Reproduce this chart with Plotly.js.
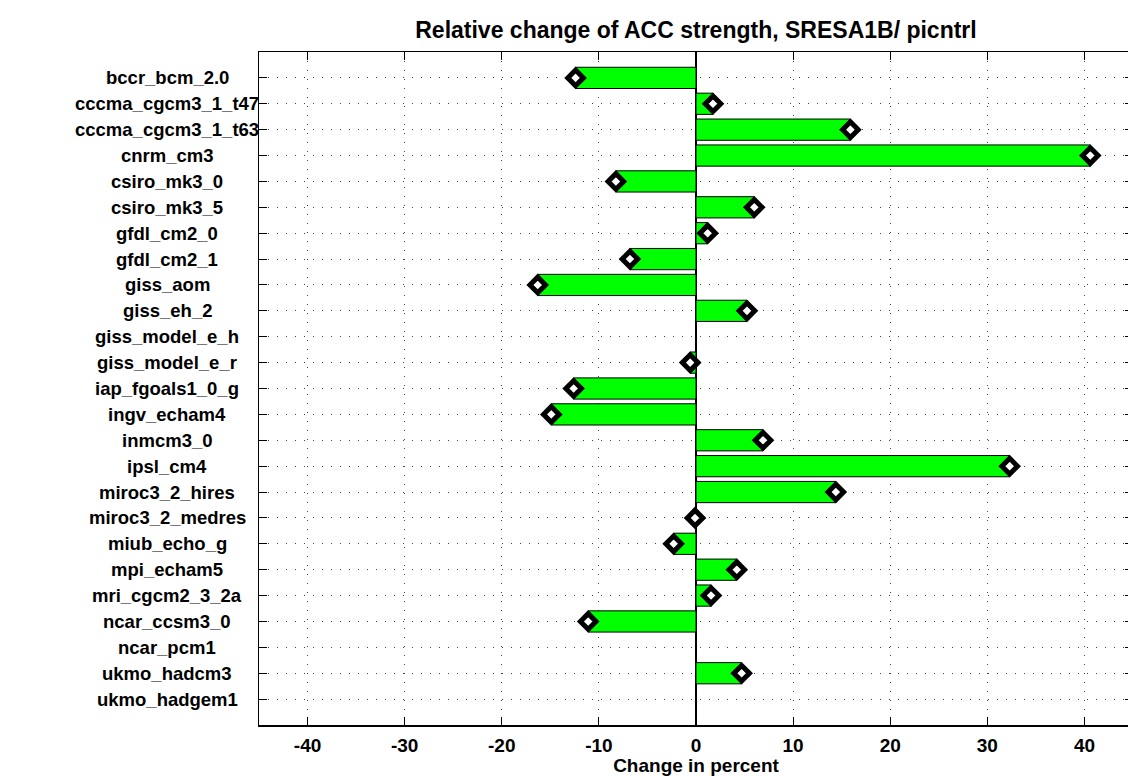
<!DOCTYPE html>
<html><head><meta charset="utf-8">
<script src="https://cdn.plot.ly/plotly-3.0.1.min.js"></script>
<style>html,body{margin:0;padding:0;overflow:hidden;background:#fff;}#chart{width:1140px;height:776px;}</style>
</head><body><div id="chart"></div>
<script>
const models = ["bccr_bcm_2.0","cccma_cgcm3_1_t47","cccma_cgcm3_1_t63","cnrm_cm3","csiro_mk3_0","csiro_mk3_5","gfdl_cm2_0","gfdl_cm2_1","giss_aom","giss_eh_2","giss_model_e_h","giss_model_e_r","iap_fgoals1_0_g","ingv_echam4","inmcm3_0","ipsl_cm4","miroc3_2_hires","miroc3_2_medres","miub_echo_g","mpi_echam5","mri_cgcm2_3_2a","ncar_ccsm3_0","ncar_pcm1","ukmo_hadcm3","ukmo_hadgem1"];
const change = [-12.4,1.75,15.9,40.6,-8.25,6.0,1.2,-6.8,-16.3,5.25,0,-0.6,-12.6,-14.9,6.9,32.3,14.4,-0.1,-2.3,4.2,1.55,-11.1,0,4.7,0];
const hasMarker = [1,1,1,1,1,1,1,1,1,1,0,1,1,1,1,1,1,1,1,1,1,1,0,1,0];
const xTicks = [-40,-30,-20,-10,0,10,20,30,40];

const pos = models.map((m,i)=>i+1);
const mx = change.map((v,i)=>hasMarker[i]?v:null);

const font = {family:"Liberation Sans, Arial, sans-serif", color:"#000"};
const data = [
 {type:"bar", orientation:"h", x:change, y:pos, width:0.82,
  marker:{color:"#00ff00", line:{color:"#000", width:1}}, hoverinfo:"x+y"},
 {type:"scatter", mode:"markers", x:mx, y:pos,
  marker:{symbol:"diamond", size:12, color:"#ffffff", line:{color:"#000", width:5}}}
];
const labelAnn = models.map((m,i)=>({
  xref:"paper", yref:"y", x:-0.105, y:pos[i], xanchor:"center", yanchor:"middle",
  text:"<b>"+m+"</b>", showarrow:false, font:Object.assign({size:18.5},font)
}));
const layout = {
 width:1140, height:776, showlegend:false,
 margin:{l:259, r:7, t:52, b:51},
 paper_bgcolor:"#fff", plot_bgcolor:"#fff",
 title:{text:"<b>Relative change of ACC strength, SRESA1B/ picntrl</b>", font:Object.assign({size:23},font), x:0.6105, xanchor:"center", y:0.961, yanchor:"middle"},
 xaxis:{range:[-45,45], tickvals:xTicks, ticktext:xTicks.map(String), ticks:"inside", ticklen:8, tickcolor:"#000",
   showline:true, linecolor:"#000", linewidth:1.5, mirror:"ticks",
   showgrid:true, gridcolor:"#444", griddash:"1px,8px", gridwidth:1,
   zeroline:true, zerolinecolor:"#000", zerolinewidth:1.5,
   tickfont:Object.assign({size:19, weight:"bold"},font), ticklabelstandoff:3,
   title:{text:"<b>Change in percent</b>", font:Object.assign({size:19},font), standoff:2}},
 yaxis:{range:[26,0], tickvals:pos, showticklabels:false, ticks:"inside", ticklen:8, tickcolor:"#000",
   showline:true, linecolor:"#000", linewidth:1.5, mirror:"ticks",
   showgrid:true, gridcolor:"#444", griddash:"1px,8px", gridwidth:1, zeroline:false},
 annotations:labelAnn
};
Plotly.newPlot("chart", data, layout, {displayModeBar:false, staticPlot:true});
</script></body></html>
